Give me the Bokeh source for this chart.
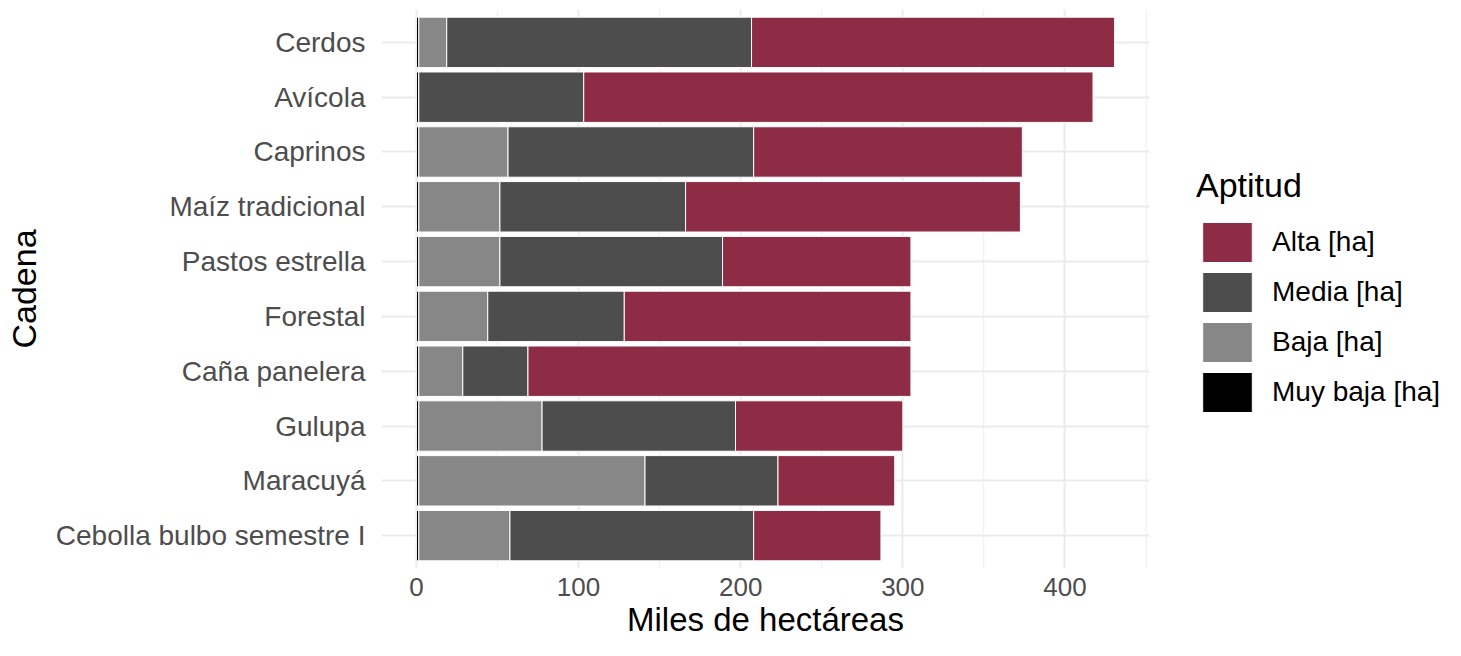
import numpy as np
from bokeh.plotting import figure
from bokeh.layouts import row
from bokeh.models import Range1d, FixedTicker, Legend, LegendItem
from bokeh.embed import file_html
from bokeh.resources import INLINE

# ---- data (thousands of hectares) ----
cadenas = ["Cerdos", "Avícola", "Caprinos", "Maíz tradicional", "Pastos estrella",
           "Forestal", "Caña panelera", "Gulupa", "Maracuyá", "Cebolla bulbo semestre I"]
muy_baja = [1.5, 1.5, 1.5, 1.5, 1.5, 1.5, 1.5, 1.5, 1.5, 1.5]
baja = [17.2, 0.0, 55.0, 50.0, 50.0, 42.5, 27.1, 76.0, 139.5, 56.2]
media = [188.0, 101.7, 151.5, 114.5, 137.3, 84.2, 40.2, 119.3, 82.0, 150.3]
alta = [223.9, 314.1, 165.7, 206.5, 116.2, 176.8, 236.2, 103.2, 72.0, 78.5]
tick_values = [0, 100, 200, 300, 400]
minor_tick_values = [-50, 50, 150, 250, 350, 450]

series_names = ["Muy baja [ha]", "Baja [ha]", "Media [ha]", "Alta [ha]"]
series_colors = ["#000000", "#878787", "#4D4D4D", "#8E2B45"]
series_values = [muy_baja, baja, media, alta]
legend_order = ["Alta [ha]", "Media [ha]", "Baja [ha]", "Muy baja [ha]"]

n = len(cadenas)
ypos = np.arange(n, 0, -1).astype(float)  # Cerdos at top

totals = np.sum([np.array(v) for v in series_values], axis=0)
xmax = float(totals.max())
pad = 0.05 * xmax

FONT = "Liberation Sans"
H = 640

p = figure(width=1160, height=H, output_backend="svg", toolbar_location=None,
           x_range=Range1d(-pad, xmax + pad), y_range=Range1d(0.4, n + 0.6),
           min_border_left=381, min_border_right=11, min_border_top=9, min_border_bottom=0)
p.outline_line_color = None
p.background_fill_color = "white"
p.border_fill_color = "white"

stacks = []
left = np.zeros(n)
for name, vals, color in zip(series_names, series_values, series_colors):
    v = np.array(vals, dtype=float)
    stacks.append((name, color, left.copy(), left + v))
    p.hbar(y=ypos, left=left, right=left + v, height=0.92,
           fill_color=color, line_color="white", line_width=1)
    left = left + v

# axes
p.xaxis.ticker = FixedTicker(ticks=tick_values, minor_ticks=minor_tick_values)
p.yaxis.ticker = FixedTicker(ticks=list(ypos))
p.yaxis.major_label_overrides = {float(y): c for y, c in zip(ypos, cadenas)}

for ax in (p.xaxis[0], p.yaxis[0]):
    ax.axis_line_color = None
    ax.major_tick_line_color = None
    ax.minor_tick_line_color = None
    ax.major_tick_out = 0
    ax.major_tick_in = 0
    ax.minor_tick_out = 0
    ax.major_label_text_font = FONT
    ax.major_label_text_color = "#4D4D4D"
    ax.axis_label_text_font = FONT
    ax.axis_label_text_font_style = "normal"
    ax.axis_label_text_color = "#000000"

p.yaxis.major_label_text_font_size = "28px"
p.yaxis.axis_label_text_font_size = "34px"
p.xaxis.major_label_text_font_size = "26px"
p.xaxis.axis_label_text_font_size = "33px"

p.xaxis.axis_label = "Miles de hectáreas"
p.yaxis.axis_label = "Cadena"
p.xaxis.major_label_standoff = 9
p.xaxis.axis_label_standoff = 2
p.yaxis.major_label_standoff = 16
p.yaxis.axis_label_standoff = 10

p.xgrid.grid_line_color = "#EBEBEB"
p.xgrid.grid_line_width = 2
p.xgrid.minor_grid_line_color = "#F2F2F2"
p.xgrid.minor_grid_line_width = 1.5
p.ygrid.grid_line_color = "#EBEBEB"
p.ygrid.grid_line_width = 2

# ---- legend panel (same glyphs, view range kept away from the data) ----
lp = figure(width=285, height=H, output_backend="svg", toolbar_location=None,
            x_range=Range1d(-1001, -1000), y_range=Range1d(-1001, -1000),
            x_axis_location=None, y_axis_location=None,
            min_border_left=0, min_border_right=0, min_border_top=0, min_border_bottom=0)
lp.outline_line_color = None
lp.xgrid.visible = False
lp.ygrid.visible = False
lp.border_fill_color = "white"
lp.background_fill_color = "white"

key_renderers = {}
for name, color, l0, r0 in stacks:
    key_renderers[name] = lp.hbar(y=ypos, left=l0, right=r0, height=0.92,
                                  fill_color=color, line_color="white", line_width=1)

legend = Legend(items=[LegendItem(label=nm, renderers=[key_renderers[nm]]) for nm in legend_order],
                location=(36, 151))
legend.title = "Aptitud"
legend.title_text_font = FONT
legend.title_text_font_size = "34px"
legend.title_text_font_style = "normal"
legend.title_text_color = "#000000"
legend.title_standoff = 12
legend.label_text_font = FONT
legend.label_text_font_size = "28px"
legend.label_text_color = "#000000"
legend.glyph_width = 62
legend.glyph_height = 50
legend.label_height = 50
legend.spacing = 0
legend.label_standoff = 14
legend.padding = 0
legend.margin = 0
legend.border_line_color = None
legend.background_fill_alpha = 0
lp.add_layout(legend, "center")

layout = row(p, lp)
open("out.html", "w").write(file_html(layout, INLINE))
